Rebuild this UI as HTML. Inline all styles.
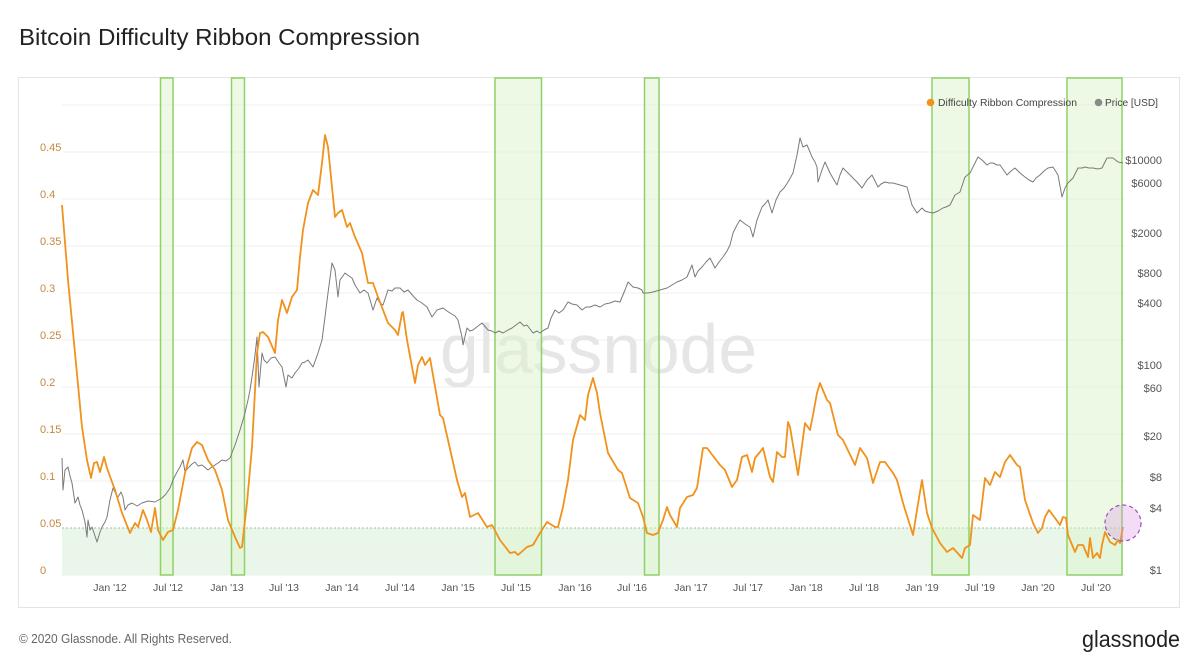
<!DOCTYPE html>
<html><head><meta charset="utf-8">
<style>
html,body{margin:0;padding:0;background:#fff;}
svg{display:block;}
text{font-family:"Liberation Sans",Arial,sans-serif;}
</style></head>
<body>
<svg width="1200" height="672" viewBox="0 0 1200 672" xmlns="http://www.w3.org/2000/svg">
<rect x="0" y="0" width="1200" height="672" fill="#ffffff"/>
<text x="19" y="45" font-size="23" fill="#222" textLength="401" lengthAdjust="spacingAndGlyphs">Bitcoin Difficulty Ribbon Compression</text>
<rect x="18.5" y="77.5" width="1161" height="530" fill="#fff" stroke="#e4e4e4" stroke-width="1"/>

<!-- gridlines -->
<g stroke="#efefef" stroke-width="1">
<line x1="62" y1="105" x2="1125" y2="105"/>
<line x1="62" y1="152" x2="1125" y2="152"/>
<line x1="62" y1="199" x2="1125" y2="199"/>
<line x1="62" y1="246" x2="1125" y2="246"/>
<line x1="62" y1="293" x2="1125" y2="293"/>
<line x1="62" y1="340" x2="1125" y2="340"/>
<line x1="62" y1="387" x2="1125" y2="387"/>
<line x1="62" y1="434" x2="1125" y2="434"/>
<line x1="62" y1="481" x2="1125" y2="481"/>
<line x1="62" y1="575" x2="1125" y2="575"/>
</g>

<!-- watermark -->
<text x="440" y="373" font-size="70" fill="#e6e6e6" textLength="317" lengthAdjust="spacingAndGlyphs">glassnode</text>

<!-- green threshold zone -->
<rect x="62" y="528" width="1061" height="47" fill="#e9f6e9"/>
<line x1="62" y1="528" x2="1123" y2="528" stroke="#8ccc8c" stroke-width="1" stroke-dasharray="2,2"/>

<!-- bands -->
<g fill="#ddf3cc" fill-opacity="0.5" stroke="#8fd168" stroke-width="1.5">
<rect x="160.5" y="78" width="12.5" height="497"/>
<rect x="231.5" y="78" width="13" height="497"/>
<rect x="495" y="78" width="46.5" height="497"/>
<rect x="644.5" y="78" width="14.5" height="497"/>
<rect x="932" y="78" width="37" height="497"/>
<rect x="1067" y="78" width="55" height="497"/>
</g>

<!-- price series -->
<polyline fill="none" stroke="#7a7a7a" stroke-width="1" stroke-linejoin="round" points="62,458 63,490 65,470 68,467 70,476 72,483 75,503 78,497 80,505 82,510 85,522 87,537 88,520 90,530 92,527 95,536 97,542 100,532 102,527 105,522 107,517 110,500 113,488 116,494 118,497 121,492 123,497 125,510 128,505 132,503 137,506 142,503 148,501 155,502 162,498 166,494 170,488 173,480 177,472 180,467 183,460 185,472 188,468 192,464 195,462 198,466 202,465 208,470 212,467 215,465 218,463 222,460 226,461 230,458 235,445 240,430 243,420 245,413 248,400 250,390 253,370 255,355 257,337 259,387 262,353 264,360 267,363 271,358 275,357 279,363 282,367 286,387 288,375 292,378 295,373 299,368 302,363 305,362 308,360 313,367 318,353 322,340 325,317 328,293 332,263 335,270 338,297 340,280 345,273 349,276 352,278 355,285 360,293 364,290 368,293 373,310 377,298 380,303 383,305 388,290 392,291 395,288 400,288 404,292 408,290 414,297 417,300 422,303 427,307 432,317 437,310 443,308 447,311 450,313 455,316 458,320 462,337 463,345 467,328 470,331 473,330 478,326 482,323 488,330 492,331 495,333 499,331 503,333 508,330 512,328 516,325 520,322 524,326 527,325 530,329 533,333 537,331 540,333 544,330 548,328 551,318 555,310 559,313 563,310 568,302 572,304 577,305 582,310 586,307 590,307 595,305 600,307 605,304 610,303 615,301 620,302 625,290 628,282 633,287 638,288 642,290 643,293 648,293 653,292 660,290 667,288 672,285 677,282 682,280 687,277 692,265 695,277 698,271 702,267 706,262 710,258 715,268 719,262 723,257 727,251 730,245 733,233 737,225 740,220 745,224 750,227 753,237 757,220 762,207 765,204 768,200 772,213 776,200 780,192 784,188 788,182 793,173 797,155 800,138 803,147 807,145 810,152 812,157 815,162 817,167 818,182 822,170 825,162 830,173 834,180 837,185 840,175 843,168 848,173 852,177 857,182 862,188 867,180 872,175 878,187 881,184 885,182 889,183 893,183 900,185 907,187 912,205 917,213 922,208 925,211 928,212 933,213 938,211 943,208 946,207 950,205 955,195 960,192 965,177 970,173 975,163 978,157 982,160 987,165 990,163 993,163 997,165 1000,165 1007,175 1011,171 1015,168 1020,173 1025,177 1029,180 1033,182 1036,178 1040,175 1044,171 1048,168 1053,167 1058,175 1062,197 1065,188 1068,183 1073,178 1078,168 1082,168 1085,167 1089,168 1093,168 1098,169 1102,168 1107,158 1113,158 1118,162 1123,163"/>

<!-- difficulty ribbon compression -->
<polyline fill="none" stroke="#f0921c" stroke-width="1.8" stroke-linejoin="round" points="62,205 68,280 75,353 82,427 87,460 91,478 94,463 97,462 100,472 104,457 107,468 112,482 115,490 122,513 130,533 135,523 138,527 143,510 147,520 151,532 155,508 158,530 163,540 168,532 173,530 178,510 185,473 192,448 197,442 202,445 208,460 215,470 222,490 228,520 235,537 240,548 242,547 247,503 252,447 257,353 260,333 263,332 268,337 275,353 278,320 282,300 287,313 292,297 297,290 300,257 303,230 308,203 313,190 318,195 322,163 325,135 328,147 335,217 338,213 342,210 347,227 350,223 355,237 362,253 368,283 373,283 378,297 388,323 395,330 398,335 402,313 403,312 407,340 415,383 418,365 422,357 425,365 430,358 440,415 443,418 457,480 462,497 465,493 470,517 478,513 487,527 492,525 500,540 510,553 515,552 518,555 527,547 533,545 540,533 547,522 555,527 558,527 563,507 568,480 573,440 580,415 585,420 588,395 593,378 597,393 600,413 608,453 618,470 622,473 630,498 638,503 643,517 647,533 653,535 658,533 663,520 667,507 670,515 677,527 680,508 687,497 693,495 697,488 703,448 707,448 720,465 725,470 732,487 737,480 742,457 747,455 752,472 755,458 760,452 763,448 770,477 773,482 777,452 782,457 785,457 788,422 790,427 798,475 805,423 810,430 813,415 817,393 820,383 827,400 830,403 838,435 843,440 855,465 860,448 867,458 873,483 880,462 885,462 893,473 897,480 903,503 913,535 917,510 922,480 927,513 932,528 940,543 947,552 953,548 962,558 965,548 970,545 973,515 980,520 985,478 990,485 995,472 1000,477 1005,462 1010,455 1017,465 1020,467 1025,500 1033,523 1038,533 1042,528 1045,517 1049,510 1055,518 1060,525 1063,517 1066,518 1068,535 1075,552 1078,545 1083,545 1088,557 1090,538 1093,558 1097,553 1100,558 1102,545 1105,532 1110,542 1115,545 1118,540 1120,543 1123,527"/>

<!-- highlight circle -->
<circle cx="1123" cy="523" r="18" fill="#d68ee0" fill-opacity="0.3" stroke="#a24cc0" stroke-width="1.2" stroke-dasharray="4,3"/>

<!-- left axis labels -->
<g font-size="11" fill="#c4883e">
<text x="40" y="151">0.45</text>
<text x="40" y="198">0.4</text>
<text x="40" y="245">0.35</text>
<text x="40" y="292">0.3</text>
<text x="40" y="339">0.25</text>
<text x="40" y="386">0.2</text>
<text x="40" y="433">0.15</text>
<text x="40" y="480">0.1</text>
<text x="40" y="527">0.05</text>
<text x="40" y="574">0</text>
</g>

<!-- right axis labels -->
<g font-size="11" fill="#555" text-anchor="end">
<text x="1162" y="164">$10000</text>
<text x="1162" y="187">$6000</text>
<text x="1162" y="237">$2000</text>
<text x="1162" y="277">$800</text>
<text x="1162" y="307">$400</text>
<text x="1162" y="369">$100</text>
<text x="1162" y="392">$60</text>
<text x="1162" y="440">$20</text>
<text x="1162" y="481">$8</text>
<text x="1162" y="512">$4</text>
<text x="1162" y="574">$1</text>
</g>

<!-- x axis labels -->
<g font-size="10.5" fill="#555" text-anchor="middle">
<text x="110" y="591">Jan '12</text>
<text x="168" y="591">Jul '12</text>
<text x="227" y="591">Jan '13</text>
<text x="284" y="591">Jul '13</text>
<text x="342" y="591">Jan '14</text>
<text x="400" y="591">Jul '14</text>
<text x="458" y="591">Jan '15</text>
<text x="516" y="591">Jul '15</text>
<text x="575" y="591">Jan '16</text>
<text x="632" y="591">Jul '16</text>
<text x="691" y="591">Jan '17</text>
<text x="748" y="591">Jul '17</text>
<text x="806" y="591">Jan '18</text>
<text x="864" y="591">Jul '18</text>
<text x="922" y="591">Jan '19</text>
<text x="980" y="591">Jul '19</text>
<text x="1038" y="591">Jan '20</text>
<text x="1096" y="591">Jul '20</text>
</g>

<!-- legend -->
<circle cx="930.5" cy="102.5" r="3.8" fill="#f0921c"/>
<text x="938" y="106" font-size="10.5" fill="#444" textLength="139" lengthAdjust="spacingAndGlyphs">Difficulty Ribbon Compression</text>
<circle cx="1098.5" cy="102.5" r="3.8" fill="#858c85"/>
<text x="1105" y="106" font-size="10.5" fill="#444" textLength="53" lengthAdjust="spacingAndGlyphs">Price [USD]</text>

<!-- footer -->
<text x="19" y="643" font-size="12.5" fill="#666" textLength="213" lengthAdjust="spacingAndGlyphs">© 2020 Glassnode. All Rights Reserved.</text>
<text x="1082" y="647" font-size="23" fill="#222" textLength="98" lengthAdjust="spacingAndGlyphs">glassnode</text>
</svg>
</body></html>
